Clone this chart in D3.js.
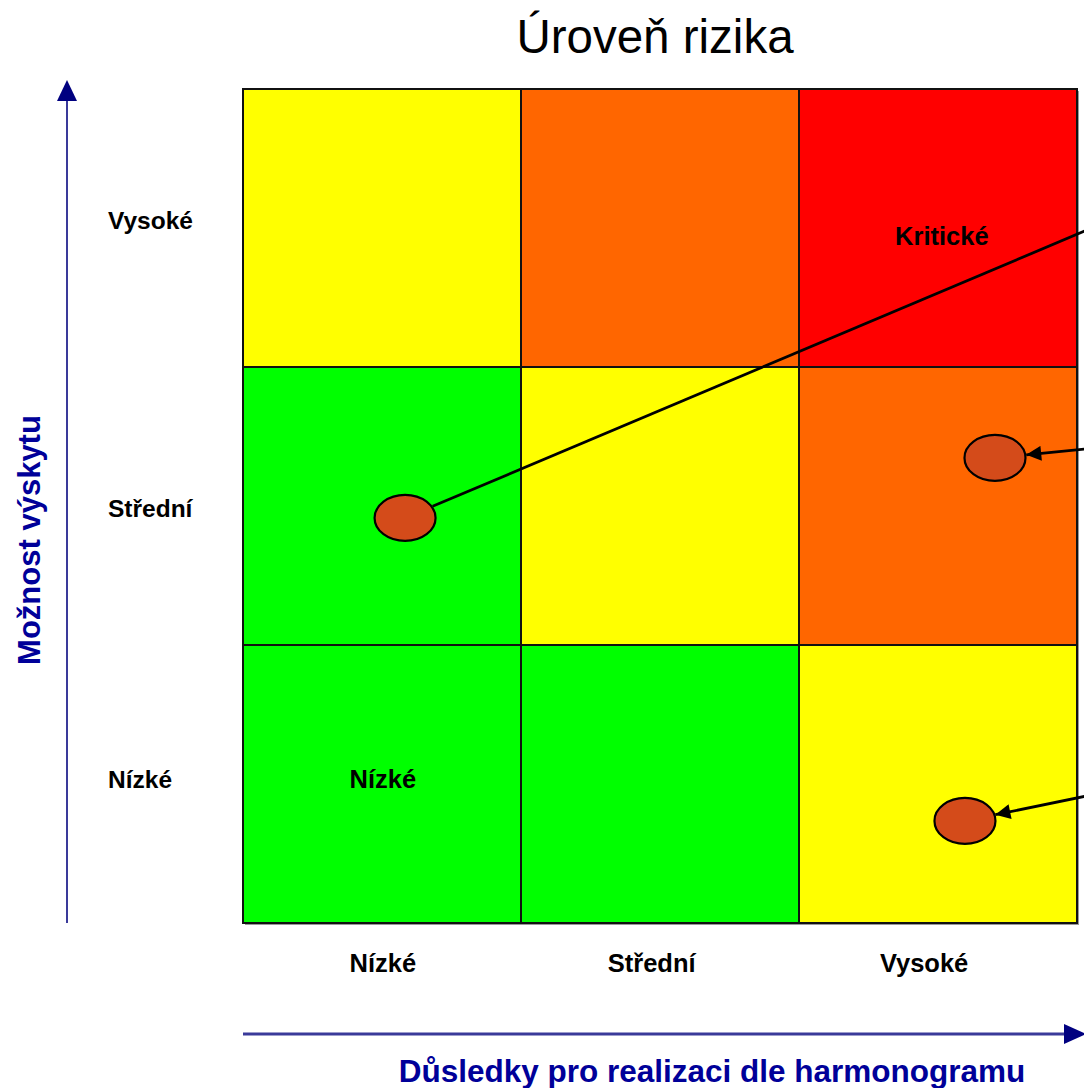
<!DOCTYPE html>
<html><head><meta charset="utf-8">
<script src="https://cdn.jsdelivr.net/npm/d3@7"></script>
<style>html,body{margin:0;padding:0;background:#fff;}svg{display:block;}</style>
</head><body>
<svg id="c" width="1084" height="1088"></svg>
<script>
const title = "Úroveň rizika";
const xTitle = "Důsledky pro realizaci dle harmonogramu";
const yTitle = "Možnost výskytu";
const impactLevels = ["Nízké", "Střední", "Vysoké"];      // columns (x)
const likelihoodLevels = ["Nízké", "Střední", "Vysoké"];  // rows (y, bottom→top)
// risk level per cell: rows from top (Vysoké) to bottom (Nízké)
const riskMatrix = [
  ["medium", "high", "critical"],
  ["low", "medium", "high"],
  ["low", "low", "medium"]
];
const riskColors = { low: "#00FF00", medium: "#FFFF00", high: "#FF6600", critical: "#FF0000" };
const cellLabels = [
  { row: "Vysoké", col: "Vysoké", text: "Kritické", dx: 0.514, dy: 0.561 },
  { row: "Nízké", col: "Nízké", text: "Nízké", dx: 0.503, dy: 0.516 }
];
// label placement within bands (fractions)
const xLabelPos = [0.503, 0.47, 0.45];
const yLabelPos = [0.516, 0.54, 0.505];
// risk points (continuous coordinates on 0..3 grid) and their leader lines to the right
const pointsX = [0.583, 2.705, 2.597];
const pointsY = [1.457, 1.673, 0.367];
const leaderEndX = [3.03, 3.03, 3.03];
const leaderEndY = [2.49, 1.705, 0.456];
const leaderArrow = [false, true, true];

const svg = d3.select("#c");
const mLeft = 243, mRight = 1077, mTop = 89, mBottom = 923;
const x = d3.scaleBand().domain(impactLevels).range([mLeft, mRight]);
const y = d3.scaleBand().domain([...likelihoodLevels].reverse()).range([mTop, mBottom]);
const xc = d3.scaleLinear().domain([0, 3]).range([mLeft, mRight]);
const yc = d3.scaleLinear().domain([0, 3]).range([mBottom, mTop]);
const FONT = "Liberation Sans, Arial, sans-serif";

const defs = svg.append("defs");
defs.append("marker").attr("id", "blackArrow").attr("viewBox", "0 0 10 10").attr("refX", 10).attr("refY", 5)
  .attr("markerWidth", 20).attr("markerHeight", 15).attr("markerUnits", "userSpaceOnUse")
  .attr("orient", "auto").append("path").attr("d", "M0,0L10,5L0,10Z").attr("fill", "#000");

// title
svg.append("text").attr("x", 655).attr("y", 53).attr("text-anchor", "middle")
  .attr("font-family", FONT).attr("font-size", 47.5).attr("fill", "#000").text(title);

// shadow
svg.append("rect").attr("x", mLeft + 2).attr("y", mTop + 2).attr("width", mRight - mLeft).attr("height", mBottom - mTop)
  .attr("fill", "#999");

// cells
const rowsTop = [...likelihoodLevels].reverse();
const cells = [];
rowsTop.forEach((r, i) => impactLevels.forEach((c, j) => cells.push({ row: r, col: c, level: riskMatrix[i][j] })));
svg.append("g").selectAll("rect").data(cells).join("rect")
  .attr("x", d => x(d.col)).attr("y", d => y(d.row))
  .attr("width", x.bandwidth()).attr("height", y.bandwidth())
  .attr("fill", d => riskColors[d.level]).attr("stroke", "#111").attr("stroke-width", 2);

// cell labels
svg.append("g").selectAll("text").data(cellLabels).join("text")
  .attr("x", d => x(d.col) + d.dx * x.bandwidth()).attr("y", d => y(d.row) + d.dy * y.bandwidth())
  .attr("text-anchor", "middle").attr("font-family", FONT)
  .attr("font-weight", "bold").attr("font-size", 25.5).attr("fill", "#000").text(d => d.text);

// leader lines
const pts = pointsX.map((px, i) => ({ x: px, y: pointsY[i], ex: leaderEndX[i], ey: leaderEndY[i], arrow: leaderArrow[i] }));
const rx = 30.5, ry = 23;
function edge(d) {
  const cx = xc(d.x), cy = yc(d.y), ex = xc(d.ex), ey = yc(d.ey);
  const a = Math.atan2(ey - cy, ex - cx);
  const t = 1 / Math.sqrt((Math.cos(a) / rx) ** 2 + (Math.sin(a) / ry) ** 2);
  return [cx + (t + 1) * Math.cos(a), cy + (t + 1) * Math.sin(a)];
}
svg.append("g").selectAll("line").data(pts).join("line")
  .attr("x1", d => xc(d.ex)).attr("y1", d => yc(d.ey))
  .attr("x2", d => edge(d)[0]).attr("y2", d => edge(d)[1])
  .attr("stroke", "#000").attr("stroke-width", 2.8)
  .attr("marker-end", d => d.arrow ? "url(#blackArrow)" : null);

// ellipses
svg.append("g").selectAll("ellipse").data(pts).join("ellipse")
  .attr("cx", d => xc(d.x)).attr("cy", d => yc(d.y)).attr("rx", rx).attr("ry", ry)
  .attr("fill", "#D44B1A").attr("stroke", "#000").attr("stroke-width", 2.2);

// category labels
svg.append("g").selectAll("text").data(likelihoodLevels).join("text")
  .attr("x", 108).attr("y", (d, i) => y(d) + yLabelPos[i] * y.bandwidth())
  .attr("font-family", FONT).attr("font-weight", "bold").attr("font-size", 24.5).attr("fill", "#000")
  .text(d => d);
svg.append("g").selectAll("text").data(impactLevels).join("text")
  .attr("x", (d, i) => x(d) + x.bandwidth() * xLabelPos[i]).attr("y", 972).attr("text-anchor", "middle")
  .attr("font-family", FONT).attr("font-weight", "bold").attr("font-size", 25.5).attr("fill", "#000")
  .text(d => d);

// axis arrows
svg.append("line").attr("x1", 67).attr("y1", 923).attr("x2", 67).attr("y2", 95)
  .attr("stroke", "#3a3a9a").attr("stroke-width", 2);
svg.append("path").attr("d", "M67,80 L57,101 L77,101 Z").attr("fill", "#000080");
svg.append("line").attr("x1", 243).attr("y1", 1034).attr("x2", 1066).attr("y2", 1034)
  .attr("stroke", "#3a3a9a").attr("stroke-width", 3);
svg.append("path").attr("d", "M1086,1034 L1064,1024 L1064,1044 Z").attr("fill", "#000080");

// axis titles
svg.append("text").attr("x", 712).attr("y", 1082).attr("text-anchor", "middle")
  .attr("font-family", FONT).attr("font-weight", "bold").attr("font-size", 31.5)
  .attr("fill", "#000099").text(xTitle);
svg.append("text").attr("transform", "translate(40,540) rotate(-90)").attr("text-anchor", "middle")
  .attr("font-family", FONT).attr("font-weight", "bold").attr("font-size", 31)
  .attr("fill", "#000099").text(yTitle);
</script>
</body></html>
